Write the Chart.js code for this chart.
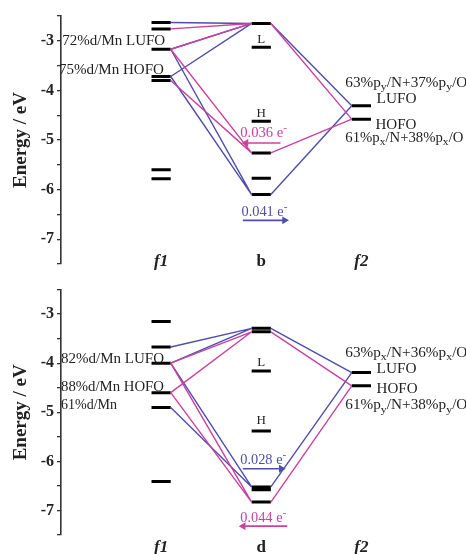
<!DOCTYPE html>
<html><head><meta charset="utf-8">
<script src="https://cdn.jsdelivr.net/npm/chart.js@4.4.1/dist/chart.umd.min.js"></script>
<style>
html,body{margin:0;padding:0;background:#fff;}
.panel{position:relative;width:466px;height:277px;}
canvas{display:block;}
</style></head><body>
<div class="panel"><canvas id="top" width="466" height="277"></canvas></div>
<div class="panel"><canvas id="bot" width="466" height="277"></canvas></div>
<script>
// ---------------- data ----------------
const topCategories = ['f1', 'b', 'f2'];
const botCategories = ['f1', 'd', 'f2'];
const yTickValues = [-3, -4, -5, -6, -7];

// energy levels (eV)
const topF1Levels = [-2.63, -2.76, -3.17, -3.72, -3.80, -5.60, -5.78];
const topBLevels  = [-2.65, -3.13, -4.62, -5.26, -5.77, -6.10];
const topF2Levels = [-4.31, -4.58];

const botF1Levels = [-3.15, -3.67, -4.00, -4.60, -4.90, -6.41];
const botDLevels  = [-3.29, -3.36, -4.16, -5.38, -6.52, -6.58, -6.83];
const botF2Levels = [-4.19, -4.46];

// correlation links: [left level index, right level index]
const topBlueF1toB = [[0,0],[2,0],[3,0],[2,5],[3,5]];
const topBlueBtoF2 = [[0,0],[5,0]];
const topPinkF1toB = [[1,0],[2,0],[2,3],[4,3]];
const topPinkBtoF2 = [[0,1],[3,1]];

const botBlueF1toD = [[1,0],[2,0],[2,4],[4,4]];
const botBlueDtoF2 = [[0,0],[4,0]];
const botPinkF1toD = [[2,1],[3,1],[2,6],[3,6]];
const botPinkDtoF2 = [[1,1],[6,1]];

// charge transfer values
const topCharges = ['0.036', '0.041'];
const botCharges = ['0.028', '0.044'];

// orbital composition texts
const topLeftTexts  = ['72%d/Mn LUFO', '75%d/Mn HOFO'];
const topRightTexts = ['63%p_y/N+37%p_y/O', 'LUFO', 'HOFO', '61%p_x/N+38%p_x/O'];
const botLeftTexts  = ['82%d/Mn LUFO', '88%d/Mn HOFO', '61%d/Mn'];
const botRightTexts = ['63%p_x/N+36%p_x/O', 'LUFO', 'HOFO', '61%p_y/N+38%p_y/O'];

// ---------------- layout / style ----------------
const COLX = [2.5, 5, 7.5];
const HW = 0.24;
const BLUE = 'rgb(78,78,172)';
const PINK = 'rgb(204,64,160)';
const SERIF = '"Liberation Serif", "DejaVu Serif", serif';

function levelData(col, levels) {
  const d = [];
  levels.forEach(e => { d.push({x: COLX[col]-HW, y: e}, {x: COLX[col]+HW, y: e}, {x: COLX[col], y: null}); });
  return d;
}
function linkData(pairs, colA, levA, colB, levB) {
  const d = [];
  pairs.forEach(([i, j]) => {
    d.push({x: COLX[colA]+HW, y: levA[i]}, {x: COLX[colB]-HW, y: levB[j]}, {x: COLX[colB], y: null});
  });
  return d;
}
function arrow(x1, x2, y, color) {
  return {
    data: [{x: x1, y: y}, {x: x2, y: y}],
    borderColor: color, borderWidth: 1.7,
    pointRadius: [0, 4.5], pointStyle: 'triangle',
    pointRotation: x2 > x1 ? 90 : -90,
    pointBackgroundColor: color, pointBorderColor: color, pointBorderWidth: 0
  };
}

// draws text with "_c" subscripts and "^c" superscripts; optional target width
function drawRich(ctx, str, x, y, size, style, color, align, targetW) {
  const chars = [];
  for (let i = 0; i < str.length; i++) {
    const c = str[i];
    if ((c === '_' || c === '^') && i + 1 < str.length) {
      chars.push({t: str[i+1], k: c === '_' ? 'sub' : 'sup'}); i++;
    } else chars.push({t: c, k: 'n'});
  }
  const fontFor = k => style + ' ' + (k === 'n' ? size : Math.round(size*0.75)) + 'px ' + SERIF;
  let w = 0;
  chars.forEach(s => { ctx.font = fontFor(s.k); s.w = ctx.measureText(s.t).width; w += s.w; });
  let sx = 1, sp = 0;
  if (targetW) {
    sx = Math.min(targetW / w, 1.14);
    sp = chars.length > 1 ? Math.max(0, (targetW / sx - w) / (chars.length - 1)) : 0;
  }
  const W = targetW || w;
  const startX = align === 'center' ? x - W/2 : (align === 'right' ? x - W : x);
  ctx.save();
  ctx.translate(startX, y);
  ctx.scale(sx, 1);
  ctx.fillStyle = color;
  ctx.textBaseline = 'middle';
  ctx.textAlign = 'left';
  let cx = 0;
  chars.forEach(s => {
    ctx.font = fontFor(s.k);
    const dy = s.k === 'sub' ? size*0.3 : (s.k === 'sup' ? -size*0.35 : 0);
    ctx.fillText(s.t, cx, dy);
    cx += s.w + sp;
  });
  ctx.restore();
}

const textPlugin = {
  id: 'texts',
  afterDraw(chart) {
    const items = chart.options.plugins.texts.items;
    const ctx = chart.ctx;
    const xs = chart.scales.x, ys = chart.scales.y;
    items.forEach(it => {
      drawRich(ctx, it.t, xs.getPixelForValue(it.x), ys.getPixelForValue(it.y),
        it.size || 14, it.style || 'normal', it.color || '#222', it.align || 'left', it.w);
    });
  }
};

function makeChart(id, pad, datasets, items) {
  return new Chart(document.getElementById(id), {
    type: 'line',
    data: { datasets: datasets },
    plugins: [textPlugin],
    options: {
      responsive: false, animation: false, devicePixelRatio: 1,
      layout: { padding: { top: pad[0], bottom: pad[1], left: 0, right: 0 } },
      spanGaps: false,
      elements: { point: { radius: 0, hoverRadius: 0 }, line: { tension: 0 } },
      plugins: { legend: { display: false }, tooltip: { enabled: false }, texts: { items: items } },
      scales: {
        x: { type: 'linear', min: 0, max: 10, display: false },
        y: {
          type: 'linear', min: -7.5, max: -2.5,
          afterFit(s) { s.width = 61; },
          ticks: {
            stepSize: 0.5, padding: 3, color: '#222',
            font: { family: SERIF, size: 16, weight: 'bold' },
            callback: v => (yTickValues.includes(v) ? String(v) : '')
          },
          grid: { drawOnChartArea: false, drawTicks: true, tickLength: 4, color: '#333', lineWidth: 1.3 },
          border: { display: true, color: '#333', width: 1.6 },
          title: { display: true, text: 'Energy / eV', color: '#222',
                   font: { family: SERIF, size: 19, weight: 'bold' }, padding: { top: 10, bottom: 0 } }
        }
      }
    }
  });
}

const lvlStyle = { borderColor: '#000', borderWidth: 3, pointRadius: 0 };
const blueStyle = { borderColor: BLUE, borderWidth: 1.4, pointRadius: 0 };
const pinkStyle = { borderColor: PINK, borderWidth: 1.4, pointRadius: 0 };

// ---------- top chart ----------
makeChart('top', [16, 13], [
  Object.assign({ data: linkData(topPinkF1toB, 0, topF1Levels, 1, topBLevels) }, pinkStyle),
  Object.assign({ data: linkData(topPinkBtoF2, 1, topBLevels, 2, topF2Levels) }, pinkStyle),
  Object.assign({ data: linkData(topBlueF1toB, 0, topF1Levels, 1, topBLevels) }, blueStyle),
  Object.assign({ data: linkData(topBlueBtoF2, 1, topBLevels, 2, topF2Levels) }, blueStyle),
  Object.assign({ data: levelData(0, topF1Levels) }, lvlStyle),
  Object.assign({ data: levelData(1, topBLevels) }, lvlStyle),
  Object.assign({ data: levelData(2, topF2Levels) }, lvlStyle),
  arrow(5.48, 4.62, -5.06, PINK),
  arrow(4.54, 5.58, -6.62, BLUE)
], [
  { t: topLeftTexts[0], x: 0.03, y: -3.02, w: 103 },
  { t: topLeftTexts[1], x: -0.05, y: -3.59, w: 105 },
  { t: topRightTexts[0], x: 7.1, y: -3.85, w: 122 },
  { t: topRightTexts[1], x: 7.88, y: -4.19, w: 40 },
  { t: topRightTexts[2], x: 7.85, y: -4.70, w: 41 },
  { t: topRightTexts[3], x: 7.1, y: -4.96, w: 118 },
  { t: 'L', x: 5, y: -2.97, size: 13, align: 'center' },
  { t: 'H', x: 5, y: -4.47, size: 13, align: 'center' },
  { t: topCharges[0] + ' e^-', x: 5.06, y: -4.86, color: PINK, align: 'center', w: 47 },
  { t: topCharges[1] + ' e^-', x: 5.08, y: -6.45, color: BLUE, align: 'center', w: 46 },
  { t: topCategories[0], x: 2.5, y: -7.46, size: 17, style: 'italic bold', align: 'center' },
  { t: topCategories[1], x: 5, y: -7.46, size: 17, style: 'bold', align: 'center' },
  { t: topCategories[2], x: 7.5, y: -7.46, size: 17, style: 'italic bold', align: 'center' }
]);

// ---------- bottom chart ----------
makeChart('bot', [11, 19], [
  Object.assign({ data: linkData(botPinkF1toD, 0, botF1Levels, 1, botDLevels) }, pinkStyle),
  Object.assign({ data: linkData(botPinkDtoF2, 1, botDLevels, 2, botF2Levels) }, pinkStyle),
  Object.assign({ data: linkData(botBlueF1toD, 0, botF1Levels, 1, botDLevels) }, blueStyle),
  Object.assign({ data: linkData(botBlueDtoF2, 1, botDLevels, 2, botF2Levels) }, blueStyle),
  Object.assign({ data: levelData(0, botF1Levels) }, lvlStyle),
  Object.assign({ data: levelData(1, botDLevels) }, lvlStyle),
  Object.assign({ data: levelData(2, botF2Levels) }, lvlStyle),
  arrow(4.54, 5.50, -6.15, BLUE),
  arrow(5.65, 4.55, -7.32, PINK)
], [
  { t: botLeftTexts[0], x: 0.0, y: -3.93, w: 103 },
  { t: botLeftTexts[1], x: 0.0, y: -4.49, w: 103 },
  { t: botLeftTexts[2], x: 0.0, y: -4.86, w: 56 },
  { t: botRightTexts[0], x: 7.1, y: -3.79, w: 122 },
  { t: botRightTexts[1], x: 7.88, y: -4.13, w: 40 },
  { t: botRightTexts[2], x: 7.88, y: -4.54, w: 41 },
  { t: botRightTexts[3], x: 7.1, y: -4.86, w: 122 },
  { t: 'L', x: 5, y: -3.99, size: 13, align: 'center' },
  { t: 'H', x: 5, y: -5.16, size: 13, align: 'center' },
  { t: botCharges[0] + ' e^-', x: 5.05, y: -5.97, color: BLUE, align: 'center', w: 46 },
  { t: botCharges[1] + ' e^-', x: 5.05, y: -7.16, color: PINK, align: 'center', w: 46 },
  { t: botCategories[0], x: 2.5, y: -7.75, size: 17, style: 'italic bold', align: 'center' },
  { t: botCategories[1], x: 5, y: -7.75, size: 17, style: 'bold', align: 'center' },
  { t: botCategories[2], x: 7.5, y: -7.75, size: 17, style: 'italic bold', align: 'center' }
]);
</script>
</body></html>
